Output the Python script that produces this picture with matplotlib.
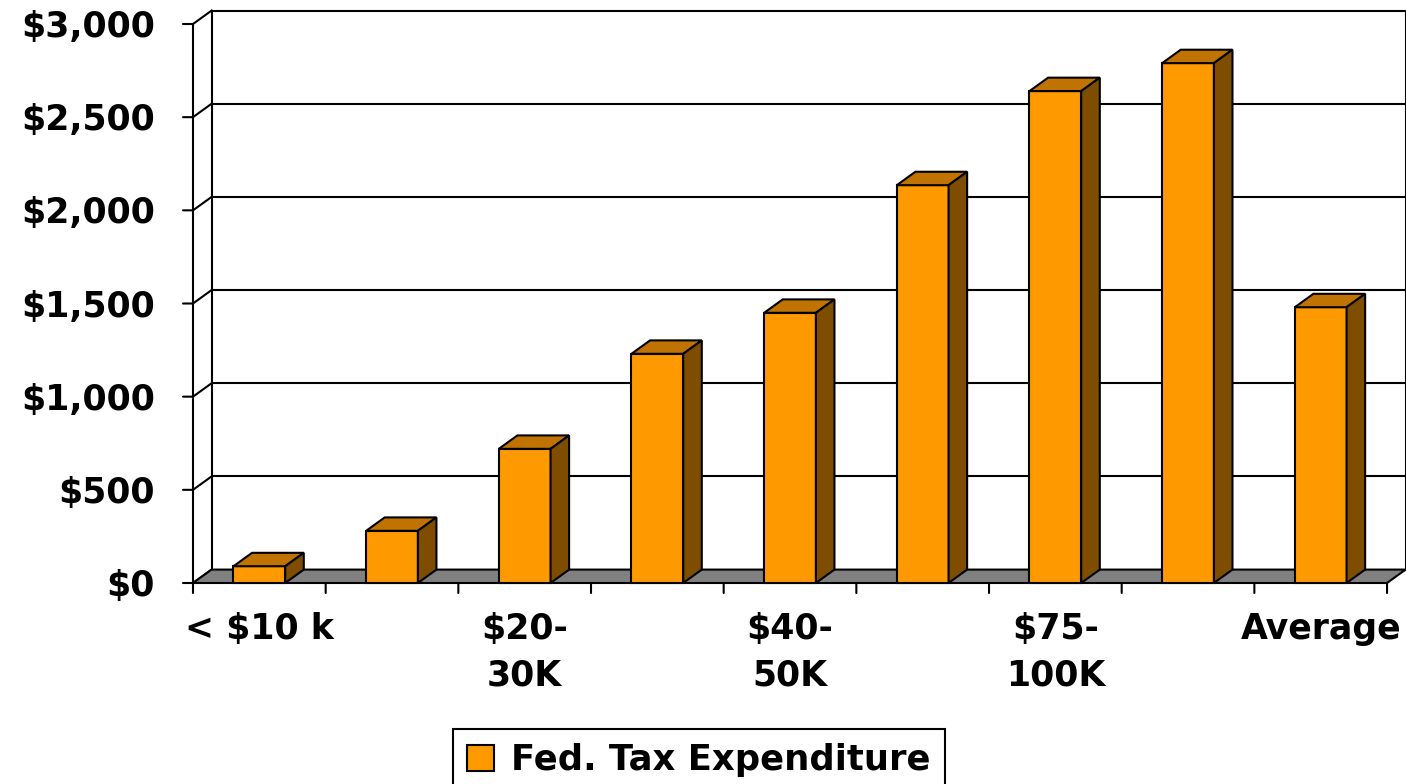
import matplotlib
matplotlib.use("Agg")
import matplotlib.pyplot as plt
from matplotlib.patches import Polygon, Patch

# Data: federal tax expenditure per household by income bracket
categories = ["< $10 k", "$10-20K", "$20-30K", "$30-40K", "$40-50K",
              "$50-75K", "$75-100K", "> $100K", "Average"]
values = [90, 280, 720, 1230, 1450, 2135, 2640, 2790, 1480]
series_name = "Fed. Tax Expenditure"
y_ticks = [0, 500, 1000, 1500, 2000, 2500, 3000]
y_tick_labels = ["$0", "$500", "$1,000", "$1,500", "$2,000", "$2,500", "$3,000"]

# Styling
FRONT = "#FF9900"
TOP = "#C07300"
SIDE = "#7F4D00"
FLOOR = "#808080"
LW = 1.5
FONT = dict(family="DejaVu Sans", weight="bold", size=25, color="black")

# 3-D depth offset expressed in data units (x: categories, y: dollars)
DX = 0.14
DY = 72
BAR_W = 0.39

W, H, DPI = 1406, 784, 100
fig = plt.figure(figsize=(W / DPI, H / DPI), dpi=DPI)
ax = fig.add_axes([0, 0, 1, 1])
ax.set_axis_off()

# Map data to the canvas: category 0 edge at 193 px, 132.67 px per category;
# $0 at 201 px from the bottom, 3000 dollars over 559 px
px_per_cat = 132.67
px_per_dollar = 559 / 3000
x0_px, y0_px = 193, 201
ax.set_xlim(-x0_px / px_per_cat, (W - x0_px) / px_per_cat)
ax.set_ylim(-y0_px / px_per_dollar, (H - y0_px) / px_per_dollar)

n = len(categories)
ymax = y_ticks[-1]

# Back wall gridlines and frame
for v in y_ticks[1:]:
    ax.plot([DX, n + DX], [v + DY, v + DY], color="black", lw=LW, zorder=1,
            solid_capstyle="projecting")
ax.plot([DX, DX], [DY, ymax + DY], color="black", lw=LW, zorder=1)
ax.plot([n + DX, n + DX], [DY, ymax + DY], color="black", lw=LW, zorder=1)

# Side wall: front value axis with diagonals to the back wall
ax.plot([0, 0], [0, ymax], color="black", lw=LW, zorder=1)
for v, lab in zip(y_ticks, y_tick_labels):
    ax.plot([0, DX], [v, v + DY], color="black", lw=LW, zorder=1)
    ax.annotate("", xy=(0, v), xytext=(-10, 0), textcoords="offset pixels",
                arrowprops=dict(arrowstyle="-", lw=LW, color="black",
                                shrinkA=0, shrinkB=0))
    ax.annotate(lab, xy=(0, v), xytext=(-38, -3),
                textcoords="offset pixels", ha="right", va="center", **FONT)

# Floor
ax.add_patch(Polygon([(0, 0), (n, 0), (n + DX, DY), (DX, DY)], closed=True,
                     facecolor=FLOOR, edgecolor="black", lw=LW, zorder=2))

# Category axis ticks and every second label
for i in range(n + 1):
    ax.annotate("", xy=(i, 0), xytext=(0, -10), textcoords="offset pixels",
                arrowprops=dict(arrowstyle="-", lw=LW, color="black",
                                shrinkA=0, shrinkB=0))
for i, cat in enumerate(categories):
    if i % 2 == 0:
        ax.annotate(cat.replace("-", "-\n"), xy=(i + 0.5, 0), xytext=(0, -29),
                    textcoords="offset pixels", ha="center", va="top",
                    linespacing=1.45, **FONT)

# 3-D columns
for i, v in enumerate(values):
    xl = i + 0.5 - BAR_W / 2
    xr = i + 0.5 + BAR_W / 2
    z = 3 + i
    ax.bar(i + 0.5, v, width=BAR_W, bottom=0, color=FRONT, edgecolor="black",
           lw=LW, zorder=z)
    ax.add_patch(Polygon([(xl, v), (xr, v), (xr + DX, v + DY), (xl + DX, v + DY)],
                         closed=True, facecolor=TOP, edgecolor="black", lw=LW,
                         zorder=z))
    ax.add_patch(Polygon([(xr, 0), (xr + DX, DY), (xr + DX, v + DY), (xr, v)],
                         closed=True, facecolor=SIDE, edgecolor="black", lw=LW,
                         zorder=z))

# Legend
handle = Patch(facecolor=FRONT, edgecolor="black", lw=LW)
leg = ax.legend([handle], [series_name], loc="upper left",
                bbox_to_anchor=(453 / W, 1 - 729 / H), frameon=True,
                fancybox=False, framealpha=1,
                prop=dict(family="DejaVu Sans", weight="bold", size=25.5),
                handlelength=0.75, handleheight=0.75, handletextpad=0.5,
                borderpad=0.4, borderaxespad=0)
leg.get_frame().set_edgecolor("black")
leg.get_frame().set_linewidth(LW)

fig.savefig("out.png", dpi=DPI, facecolor="white")
